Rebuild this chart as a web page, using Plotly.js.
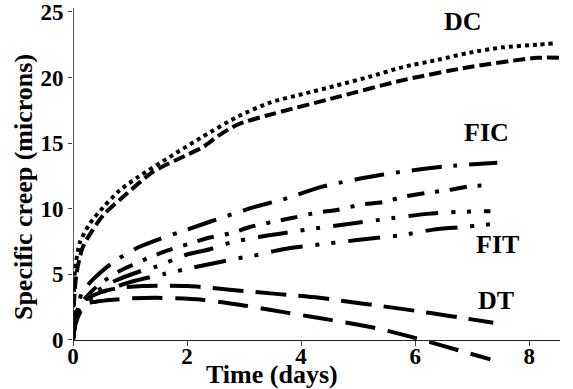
<!DOCTYPE html>
<html>
<head>
<meta charset="utf-8">
<script src="https://cdn.plot.ly/plotly-3.0.1.min.js"></script>
<style>html,body{margin:0;padding:0;background:#fff;}#chart{width:573px;height:389px;}</style>
</head>
<body>
<div id="chart"></div>
<script>
// Time (days) and specific creep (microns)
const dcDottedX = [0, 0.01, 0.035, 0.12, 0.3, 0.53, 0.82, 1.12, 1.70, 2.28, 2.88, 3.46, 4.04, 4.63, 5.21, 5.79, 6.39, 6.96, 7.54, 8.14, 8.42];
const dcDottedY = [0, 3.0, 5.3, 7.4, 8.9, 10.1, 11.4, 12.35, 13.95, 15.5, 17.0, 18.1, 18.75, 19.4, 20.07, 20.8, 21.34, 21.9, 22.3, 22.5, 22.6];

const dcDashedX = [0, 0.02, 0.06, 0.175, 0.53, 0.88, 1.40, 2.0, 2.28, 2.53, 2.88, 3.40, 4.63, 5.79, 6.96, 8.14, 8.54];
const dcDashedY = [0, 3.0, 5.0, 7.1, 9.5, 10.9, 12.8, 14.1, 14.7, 15.5, 16.4, 17.1, 18.5, 19.8, 20.8, 21.5, 21.5];

const ficAX = [0, 0.04, 0.1, 0.16, 0.35, 0.7, 1.12, 1.53, 2.0, 2.4, 3.16, 3.68, 4.39, 5.44, 6.49, 7.44];
const ficAY = [0, 1.6, 2.8, 3.6, 4.6, 5.9, 7.0, 7.7, 8.4, 9.0, 10.1, 10.7, 11.7, 12.6, 13.2, 13.5];

const ficBX = [0, 0.04, 0.1, 0.2, 0.45, 0.8, 1.04, 1.30, 1.65, 2.02, 2.40, 2.79, 3.1, 3.51, 3.86, 4.28, 4.63, 5.04, 5.44, 5.79, 6.21, 6.56, 6.96, 7.32];
const ficBY = [0, 1.5, 2.5, 3.1, 4.2, 5.2, 5.7, 6.2, 6.8, 7.3, 7.8, 8.15, 8.6, 9.0, 9.3, 9.7, 9.9, 10.3, 10.5, 10.9, 11.2, 11.4, 11.7, 11.8];

const fitCX = [0, 0.04, 0.1, 0.2, 0.45, 0.74, 1.23, 1.47, 2.0, 2.4, 2.75, 3.28, 4.1, 4.86, 5.39, 6.21, 6.74, 7.32];
const fitCY = [0, 1.4, 2.4, 3.0, 3.8, 4.5, 5.3, 5.6, 6.5, 6.9, 7.4, 7.85, 8.4, 8.85, 9.15, 9.6, 9.75, 9.8];

const fitDX = [0, 0.04, 0.1, 0.2, 0.5, 1.0, 1.58, 2.1, 2.6, 2.88, 3.16, 3.68, 4.2, 4.98, 5.5, 5.8, 6.32, 6.84, 7.40];
const fitDY = [0, 1.3, 2.2, 2.8, 3.6, 4.4, 5.0, 5.5, 5.95, 6.2, 6.4, 6.9, 7.2, 7.6, 7.85, 8.0, 8.4, 8.6, 8.85];

const dtUpperX = [0, 0.04, 0.12, 0.25, 0.47, 0.8, 1.23, 2.02, 2.79, 3.56, 4.32, 5.09, 5.86, 6.63, 7.37];
const dtUpperY = [0, 1.3, 2.4, 3.1, 3.6, 3.95, 4.1, 4.1, 3.8, 3.5, 3.2, 2.75, 2.3, 1.8, 1.3];

const dtLowerX = [0, 0.05, 0.21, 0.4, 0.70, 1.0, 1.46, 2.26, 3.02, 3.77, 4.54, 5.30, 6.05, 6.79, 7.32];
const dtLowerY = [0, 1.3, 2.7, 2.9, 3.05, 3.15, 3.2, 3.05, 2.6, 2.05, 1.5, 0.9, 0.08, -0.84, -1.5];

const xTicks = [0, 2, 4, 6, 8];
const yTicks = [0, 5, 10, 15, 20, 25];
const curveLabels = ['DC', 'FIC', 'FIT', 'DT'];
const labelX = [6.84, 7.25, 7.44, 7.42];
const labelY = [24.3, 15.8, 7.24, 3.0];

const FONT = 'Times New Roman';
const X_MAX = 8.54, Y_MIN = -2, Y_MAX = 25.3;

function line(x, y, dash) {
  return {x: x, y: y, type: 'scatter', mode: 'lines', showlegend: false, hoverinfo: 'skip',
          line: {color: '#000', width: 4, dash: dash, shape: 'spline', smoothing: 0.7}};
}

const traces = [
  line(dcDottedX, dcDottedY, '4px,4px'),
  line(dcDashedX, dcDashedY, '12px,5px'),
  line(ficAX, ficAY, '30px,12px,4px,12px'),
  line(ficBX, ficBY, '17px,11px,4px,11px'),
  line(fitCX, fitCY, '30px,13px,4px,12px,4px,13px'),
  line(fitDX, fitDY, '32px,13px,4px,12px,4px,13px'),
  line(dtUpperX, dtUpperY, '31px,12px'),
  line(dtLowerX, dtLowerY, '30px,13px')
];

const W = 573, H = 389, ML = 73, MR = 13, MT = 8, MB = 23;

const annotations = curveLabels.map((t, i) => ({
  text: '<b>' + t + '</b>', x: labelX[i], y: labelY[i], xref: 'x', yref: 'y', showarrow: false,
  xanchor: 'center', yanchor: 'middle',
  font: {family: FONT, size: 26, color: '#000'}
}));
// x-axis title, placed by pixel position converted to paper fraction
annotations.push({
  text: '<b>Time (days)</b>', x: (272 - ML) / (W - ML - MR), y: (H - MB - 374) / (H - MT - MB),
  xref: 'paper', yref: 'paper', showarrow: false, xanchor: 'center', yanchor: 'middle',
  font: {family: FONT, size: 26, color: '#000'}
});

const layout = {
  width: W, height: H,
  margin: {l: ML, r: MR, t: MT, b: MB, pad: 0},
  paper_bgcolor: '#fff', plot_bgcolor: '#fff',
  font: {family: FONT, color: '#000'},
  showlegend: false,
  xaxis: {
    range: [0, X_MAX], anchor: 'free', position: (0 - Y_MIN) / (Y_MAX - Y_MIN),
    showline: true, linecolor: '#222', linewidth: 1.5, mirror: false,
    ticks: 'outside', ticklen: 5, tickwidth: 1, tickcolor: '#444',
    tickvals: xTicks, ticktext: xTicks.map(v => '<b>' + v + '</b>'),
    showgrid: false, zeroline: false, ticklabeloverflow: 'allow', ticklabelstandoff: -10,
    tickfont: {family: FONT, size: 23, color: '#000'}
  },
  yaxis: {
    range: [Y_MIN, Y_MAX], showline: false,
    ticks: 'outside', ticklen: 4, tickwidth: 1, tickcolor: '#444',
    tickvals: yTicks, ticktext: yTicks.map(v => '<b>' + v + '</b>'),
    showgrid: false, zeroline: false, ticklabeloverflow: 'allow',
    tickfont: {family: FONT, size: 23, color: '#000'},
    title: {text: '<b>Specific creep (microns)</b>', standoff: 0,
            font: {family: FONT, size: 26, color: '#000'}}
  },
  shapes: [{type: 'line', xref: 'x', yref: 'y', x0: 0, x1: 0, y0: 0, y1: Y_MAX,
            line: {color: '#222', width: 1.5}}],
  annotations: annotations
};

Plotly.newPlot('chart', traces, layout, {staticPlot: true, displayModeBar: false});
</script>
</body>
</html>
